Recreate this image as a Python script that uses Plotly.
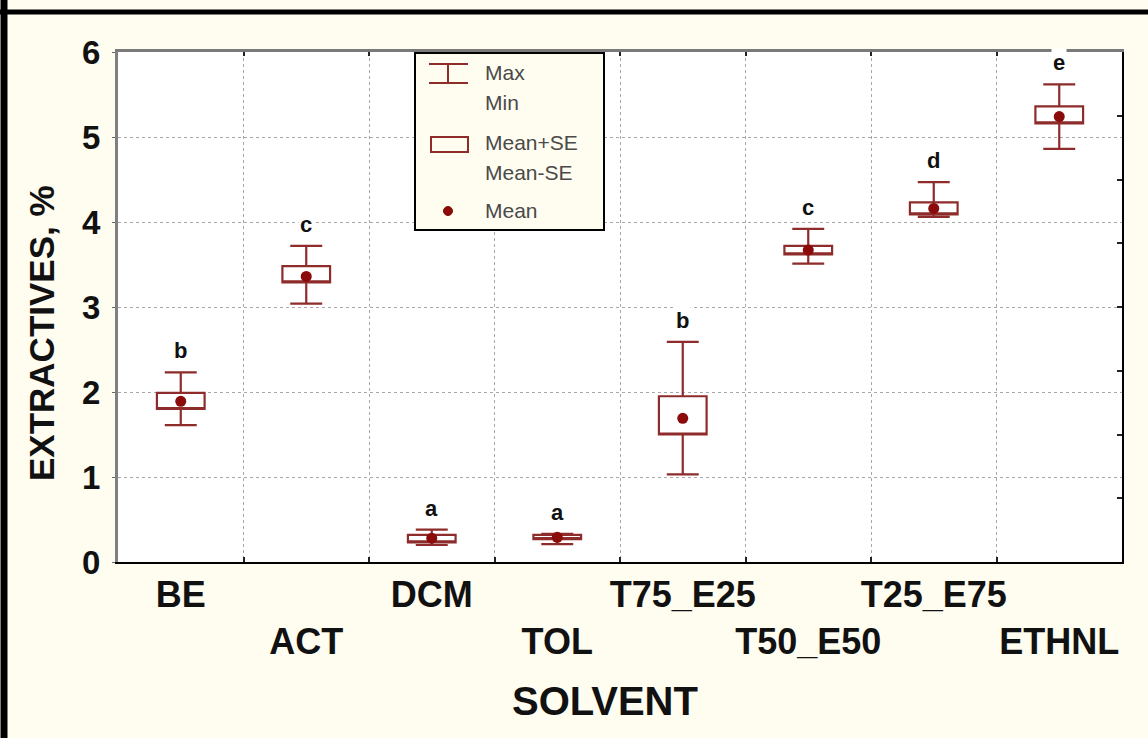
import plotly.graph_objects as go

# ---------------- data ----------------
categories = ["BE", "ACT", "DCM", "TOL", "T75_E25", "T50_E50", "T25_E75", "ETHNL"]
mean_vals = [1.89, 3.36, 0.28, 0.29, 1.69, 3.67, 4.16, 5.24]
se_high = [1.99, 3.48, 0.32, 0.32, 1.95, 3.72, 4.23, 5.36]
se_low = [1.80, 3.29, 0.23, 0.27, 1.50, 3.62, 4.09, 5.16]
max_vals = [2.23, 3.72, 0.38, 0.33, 2.59, 3.92, 4.47, 5.62]
min_vals = [1.61, 3.04, 0.20, 0.21, 1.03, 3.51, 4.06, 4.86]
group_letters = ["b", "c", "a", "a", "b", "c", "d", "e"]
y_ticks = [0, 1, 2, 3, 4, 5, 6]

# ---------------- styling ----------------
W_PX, H_PX = 1148, 738
L, R, T, B = 118, 26, 52, 176
PW, PH = W_PX - L - R, H_PX - T - B
PAPER = "#FFFCF0"
RED = "#8E2B2B"
DOT = "#8B0A0A"
FONT = "Liberation Sans, Arial, sans-serif"


def px_x(px):
    return (px - L) / PW


def px_y(py):
    return (H_PX - B - py) / PH


pos = list(range(1, len(categories) + 1))
boundaries = [p + 0.5 for p in pos[:-1]]
ticktext = [c if i % 2 == 0 else "<br>" + c for i, c in enumerate(categories)]

fig = go.Figure()

fig.add_trace(go.Box(
    x=pos, q1=se_low, median=se_low, q3=se_high,
    lowerfence=min_vals, upperfence=max_vals,
    width=0.38, whiskerwidth=0.67,
    line=dict(color=RED, width=2.2), fillcolor="white",
    boxpoints=False, showlegend=False, hoverinfo="skip",
))

fig.add_trace(go.Scatter(
    x=pos, y=mean_vals, mode="markers",
    marker=dict(size=11, color=DOT), showlegend=False, hoverinfo="skip",
))

# helper trace so that the mirrored top/right axes are drawn
fig.add_trace(go.Scatter(
    x=pos, y=mean_vals, mode="none", xaxis="x2", yaxis="y2",
    showlegend=False, hoverinfo="skip",
))

annotations = []
for p, mx, letter in zip(pos, max_vals, group_letters):
    annotations.append(dict(
        x=p, y=mx, xref="x", yref="y", text=letter, showarrow=False,
        yanchor="bottom", yshift=7, bgcolor="white", borderpad=1,
        font=dict(family=FONT, size=22, color="#111", weight="bold"),
    ))

# axis titles
annotations.append(dict(
    x=px_x(605), y=px_y(701), xref="paper", yref="paper", text="SOLVENT",
    showarrow=False, xanchor="center", yanchor="middle",
    font=dict(family=FONT, size=40, color="#111", weight="bold"),
))
annotations.append(dict(
    x=px_x(41), y=px_y(333), xref="paper", yref="paper", text="EXTRACTIVES, %",
    showarrow=False, xanchor="center", yanchor="middle", textangle=-90,
    font=dict(family=FONT, size=35, color="#111", weight="bold"),
))

# legend texts
legend_items = [("Max", 73), ("Min", 103), ("Mean+SE", 142), ("Mean-SE", 172), ("Mean", 210)]
for txt, py in legend_items:
    annotations.append(dict(
        x=px_x(483), y=px_y(py), xref="paper", yref="paper", text=txt,
        showarrow=False, xanchor="left", yanchor="middle",
        font=dict(family=FONT, size=21, color="#4a4a4a"),
    ))

shapes = [
    # outer frame of the picture
    dict(type="line", xref="paper", yref="paper", x0=px_x(4), x1=px_x(4),
         y0=px_y(0), y1=px_y(738), line=dict(color="black", width=7)),
    dict(type="line", xref="paper", yref="paper", x0=px_x(0), x1=px_x(1148),
         y0=px_y(12), y1=px_y(12), line=dict(color="black", width=5)),
    # legend box
    dict(type="rect", xref="paper", yref="paper", x0=px_x(415), x1=px_x(604),
         y0=px_y(230), y1=px_y(53), fillcolor=PAPER, line=dict(color="black", width=2)),
    # legend whisker symbol
    dict(type="line", xref="paper", yref="paper", x0=px_x(429), x1=px_x(468),
         y0=px_y(64), y1=px_y(64), line=dict(color=RED, width=2)),
    dict(type="line", xref="paper", yref="paper", x0=px_x(429), x1=px_x(468),
         y0=px_y(83), y1=px_y(83), line=dict(color=RED, width=2)),
    dict(type="line", xref="paper", yref="paper", x0=px_x(448), x1=px_x(448),
         y0=px_y(64), y1=px_y(83), line=dict(color=RED, width=2)),
    # legend box symbol
    dict(type="rect", xref="paper", yref="paper", x0=px_x(431), x1=px_x(468),
         y0=px_y(152), y1=px_y(137), fillcolor=PAPER, line=dict(color=RED, width=2)),
    # legend mean symbol
    dict(type="circle", xref="paper", yref="paper", x0=px_x(443.5), x1=px_x(452.5),
         y0=px_y(215.5), y1=px_y(206.5), fillcolor=DOT, line=dict(color=DOT, width=1)),
]

fig.update_layout(
    width=W_PX, height=H_PX,
    margin=dict(l=L, r=R, t=T, b=B, pad=0, autoexpand=False),
    paper_bgcolor=PAPER, plot_bgcolor="white",
    showlegend=False,
    font=dict(family=FONT, color="#111"),
    xaxis=dict(
        range=[0.5, len(categories) + 0.5], automargin=False,
        tickmode="array", tickvals=pos, ticktext=ticktext, tickangle=0,
        tickfont=dict(family=FONT, size=36, color="#111", weight="bold"),
        ticks="", showgrid=False, zeroline=False,
        showline=True, linecolor="black", linewidth=2,
        ticklabelstandoff=0,
        minor=dict(tickmode="array", tickvals=boundaries, showgrid=True,
                   gridcolor="#a8a8a8", griddash="dot", gridwidth=1,
                   ticks="inside", ticklen=5, tickcolor="#222", tickwidth=2),
    ),
    yaxis=dict(
        range=[0, 6], tickmode="array", tickvals=y_ticks, automargin=False,
        tickfont=dict(family=FONT, size=33, color="#111", weight="bold"),
        showgrid=True, gridcolor="#a8a8a8", griddash="dot", gridwidth=1,
        zeroline=False, showline=True, linecolor="#808080", linewidth=3,
        ticks="outside", ticklen=3, tickcolor="#666",
        ticklabelstandoff=5,
    ),
    xaxis2=dict(
        overlaying="x", side="top", range=[0.5, len(categories) + 0.5],
        automargin=False,
        tickmode="array", tickvals=boundaries, ticktext=[""] * len(boundaries),
        ticks="inside", ticklen=4, tickcolor="#222", tickwidth=2,
        showgrid=False, zeroline=False, showline=True,
        linecolor="#7a7a7a", linewidth=3,
    ),
    yaxis2=dict(
        overlaying="y", side="right", range=[0, 6], automargin=False,
        tick0=0, dtick=0.75, showticklabels=False,
        ticks="inside", ticklen=5, tickcolor="#222", tickwidth=2,
        showgrid=False, zeroline=False, showline=True,
        linecolor="black", linewidth=2,
    ),
    annotations=annotations,
    shapes=shapes,
)

fig.write_html("out.html")
